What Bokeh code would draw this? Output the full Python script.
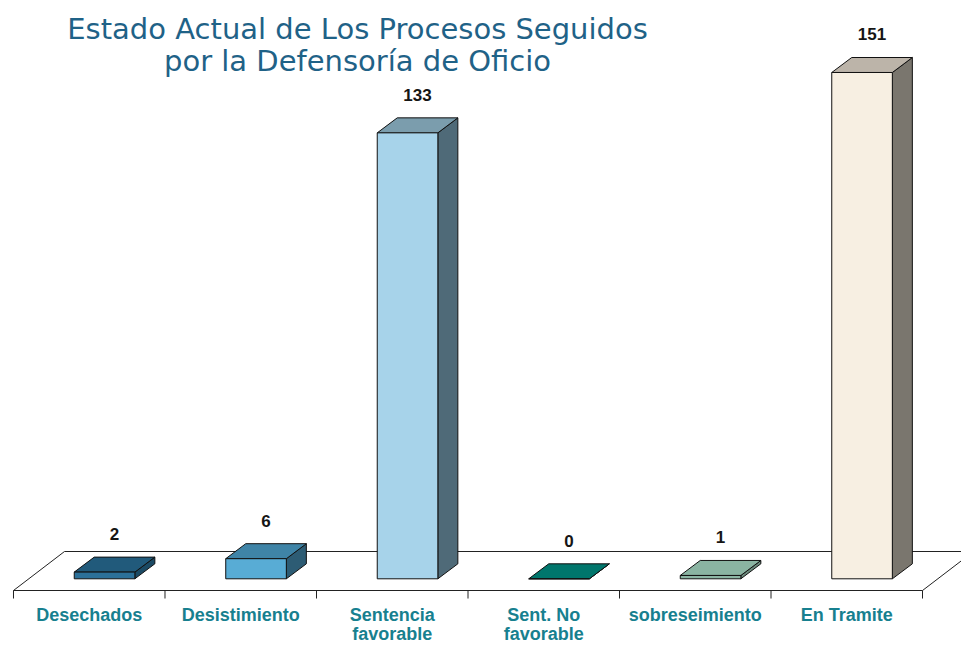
from bokeh.plotting import figure
from bokeh.models import ColumnDataSource, Range1d
from bokeh.core.properties import value
from bokeh.embed import file_html
from bokeh.resources import INLINE

# ---- data ----
categories = ["Desechados", "Desistimiento", "Sentencia\nfavorable",
              "Sent. No\nfavorable", "sobreseimiento", "En Tramite"]
counts = [2, 6, 133, 0, 1, 151]
title_lines = ["Estado Actual de Los Procesos Seguidos",
               "por la Defensoría de Oficio"]

# ---- styles ----
front_colors = ["#2b7099", "#58acd5", "#a7d3ea", "#00776d", "#8cb6a4", "#f7efe2"]
top_colors = ["#215a7b", "#3f84a7", "#7b9dad", "#00766c", "#8ab4a2", "#bcb4a9"]
side_colors = ["#1b4a64", "#2d5c74", "#4f6a78", "#00665d", "#6b8a7c", "#7a766e"]
title_color = "#1f6287"
label_color = "#17808f"

# projection constants (category units / value units)
FLOOR_DX = 0.3366
FLOOR_DY = 11.63
BAR_POS = 0.3
BAR_W = 0.4
BAR_DX = 0.132
BAR_DY = 4.47
TICK_LEN = 2.39

n = len(categories)

p = figure(width=961, height=645,
           x_range=Range1d(-0.0858, 6.2574), y_range=Range1d(-19.89, 172.47),
           output_backend="svg", toolbar_location=None, min_border=0,
           x_axis_location=None, y_axis_location=None,
           outline_line_color=None, background_fill_color="white")
p.xgrid.visible = False
p.ygrid.visible = False

# ---- floor ----
vf = -BAR_POS * FLOOR_DY
vb = (1 - BAR_POS) * FLOOR_DY
p.segment(x0=[0, FLOOR_DX, 0, n], y0=[vf, vb, vf, vf],
          x1=[n, n + FLOOR_DX, FLOOR_DX, n + FLOOR_DX], y1=[vf, vb, vb, vb],
          line_color="#222222", line_width=1)
ticks = list(range(n + 1))
p.segment(x0=ticks, y0=[vf] * len(ticks), x1=ticks, y1=[vf - TICK_LEN] * len(ticks),
          line_color="#222222", line_width=1)

# ---- bars ----
x0s = [i + 0.5 + BAR_POS * FLOOR_DX - BAR_W / 2 for i in range(n)]
x1s = [x + BAR_W for x in x0s]

side_xs, side_ys, top_xs, top_ys = [], [], [], []
for x0, x1, v in zip(x0s, x1s, counts):
    side_xs.append([x1, x1 + BAR_DX, x1 + BAR_DX, x1])
    side_ys.append([0, BAR_DY, v + BAR_DY, v])
    top_xs.append([x0, x1, x1 + BAR_DX, x0 + BAR_DX])
    top_ys.append([v, v, v + BAR_DY, v + BAR_DY])

p.patches(xs=side_xs, ys=side_ys, fill_color=side_colors, line_color="#111111", line_width=1)
p.patches(xs=top_xs, ys=top_ys, fill_color=top_colors, line_color="#111111", line_width=1)
p.quad(left=x0s, right=x1s, bottom=[0] * n, top=counts,
       fill_color=front_colors, line_color="#111111", line_width=1)

# ---- value labels ----
lab_src = ColumnDataSource(dict(
    x=[x + BAR_W / 2 + BAR_DX / 2 for x in x0s],
    y=[v + BAR_DY + 6.9 for v in counts],
    t=[str(v) for v in counts]))
p.text(x="x", y="y", text="t", source=lab_src, text_align="center",
       text_baseline="alphabetic", text_font=value("Liberation Sans"),
       text_font_style="bold", text_font_size="17px", text_color="#151515")

# ---- category labels ----
line1 = [c.split("\n")[0] for c in categories]
line2 = [c.split("\n")[1] if "\n" in c else "" for c in categories]
cx = [i + 0.5 for i in range(n)]
p.text(x=cx, y=[-10.65] * n, text=line1, text_align="center", text_baseline="middle",
       text_font=value("Liberation Sans"), text_font_style="bold",
       text_font_size="18px", text_color=label_color)
p.text(x=cx, y=[-16.6] * n, text=line2, text_align="center", text_baseline="middle",
       text_font=value("Liberation Sans"), text_font_style="bold",
       text_font_size="18px", text_color=label_color)

# ---- title ----
p.text(x=[2.271, 2.271], y=[163.9, 154.4], text=title_lines, text_align="center",
       text_baseline="alphabetic", text_font=value("DejaVu Sans"),
       text_font_size="29px", text_color=title_color)

open("out.html", "w").write(file_html(p, INLINE))
